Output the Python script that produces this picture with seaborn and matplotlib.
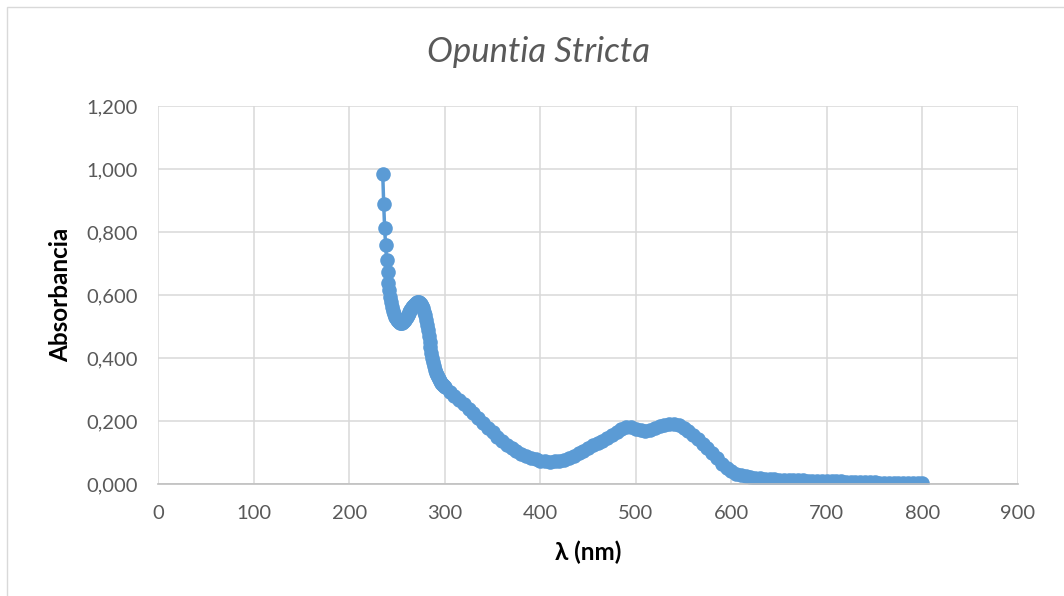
import numpy as np
import pandas as pd
import matplotlib
matplotlib.use("Agg")
import matplotlib.pyplot as plt
import matplotlib.ticker as mticker
from matplotlib.patches import Rectangle
import seaborn as sns

# Espectro UV-Vis, Opuntia stricta
# 235-300 nm cada 1 nm
wl_fine = list(range(235, 301))
abs_fine = [0.985, 0.888, 0.812, 0.758, 0.712, 0.672, 0.640, 0.615, 0.595, 0.578,
            0.562, 0.550, 0.540, 0.532, 0.526, 0.521, 0.517, 0.514, 0.512, 0.512,
            0.513, 0.515, 0.518, 0.522, 0.527, 0.532, 0.537, 0.542, 0.547, 0.552,
            0.557, 0.562, 0.566, 0.570, 0.573, 0.576, 0.578, 0.579, 0.578, 0.576,
            0.572, 0.566, 0.558, 0.548, 0.536, 0.522, 0.506, 0.489, 0.471, 0.453,
            0.435, 0.418, 0.402, 0.388, 0.375, 0.364, 0.354, 0.346, 0.339, 0.333,
            0.327, 0.322, 0.318, 0.314, 0.311, 0.308]

# 305-800 nm cada 5 nm
wl_coarse = list(range(305, 801, 5))
abs_coarse = [0.294, 0.281, 0.268, 0.255, 0.240, 0.225, 0.210, 0.195, 0.180, 0.165,
              0.151, 0.138, 0.126, 0.115, 0.105, 0.097, 0.090, 0.084, 0.079, 0.075,
              0.073, 0.072, 0.073, 0.075, 0.078, 0.083, 0.090, 0.098, 0.107, 0.116,
              0.124, 0.131, 0.138, 0.147, 0.156, 0.165, 0.174, 0.183, 0.182, 0.176,
              0.171, 0.170, 0.173, 0.178, 0.184, 0.189, 0.192, 0.192, 0.187, 0.180,
              0.168, 0.156, 0.143, 0.129, 0.114, 0.098, 0.082, 0.066, 0.051, 0.041,
              0.034, 0.029, 0.025, 0.022, 0.020, 0.019, 0.018, 0.017, 0.016, 0.015,
              0.015, 0.014, 0.014, 0.013, 0.013, 0.012, 0.012, 0.011, 0.011, 0.010,
              0.010, 0.009, 0.009, 0.008, 0.008, 0.008, 0.007, 0.007, 0.006, 0.006,
              0.005, 0.004, 0.004, 0.004, 0.005, 0.005, 0.005, 0.005, 0.004, 0.004]

x_ticks = [0, 100, 200, 300, 400, 500, 600, 700, 800, 900]
y_ticks = [0.0, 0.2, 0.4, 0.6, 0.8, 1.0, 1.2]

df = pd.DataFrame({"wl": wl_fine + wl_coarse, "absorbancia": abs_fine + abs_coarse})

sns.set_style("white")
plt.rcParams["font.family"] = ["Lato", "DejaVu Sans"]

fig = plt.figure(figsize=(10.64, 5.96), dpi=100)
ax = fig.add_axes([0.1488, 0.1874, 0.8078, 0.6347])

# marco del grafico
fig.patches.append(Rectangle((7 / 1064, -0.2), 1.3, 1.2 - 7 / 596, transform=fig.transFigure,
                             fill=False, edgecolor="#d9d9d9", linewidth=1.0))

sns.lineplot(data=df, x="wl", y="absorbancia", sort=False, ax=ax, color="#5B9BD5",
             linewidth=2.5, marker="o", markersize=10.5, markeredgewidth=0)

ax.set_xlim(0, 900)
ax.set_ylim(0, 1.2)
ax.set_xticks(x_ticks)
ax.set_yticks(y_ticks)
ax.yaxis.set_major_formatter(mticker.FuncFormatter(lambda v, p: f"{v:.3f}".replace(".", ",")))
ax.grid(True, color="#d9d9d9", linewidth=1.1)
ax.set_axisbelow(True)
for s in ["top", "right", "left"]:
    ax.spines[s].set_visible(False)
ax.spines["bottom"].set_color("#bfbfbf")
ax.spines["bottom"].set_linewidth(1.2)
ax.tick_params(axis="both", length=0, labelsize=14.5, labelcolor="#595959")
ax.tick_params(axis="x", pad=15)
ax.tick_params(axis="y", pad=15)

ax.set_xlabel("λ (nm)", fontsize=17.5, fontweight="bold", color="black", labelpad=13)
ax.set_ylabel("Absorbancia", fontsize=17.5, fontweight="bold", color="black", labelpad=10)
fig.text(0.506, 0.912, "Opuntia Stricta", ha="center", va="center", fontsize=25,
         style="italic", color="#595959")

fig.savefig("out.png", dpi=100)
